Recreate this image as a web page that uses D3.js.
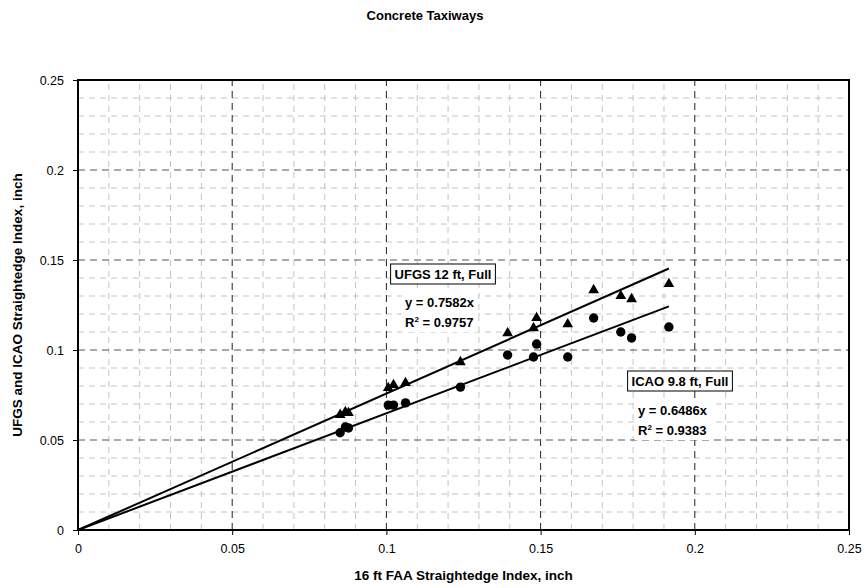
<!DOCTYPE html>
<html>
<head>
<meta charset="utf-8">
<script src="https://cdn.jsdelivr.net/npm/d3@7"></script>
<style>
  body { margin: 0; background: #fff; }
  svg { font-family: "Liberation Sans", Arial, sans-serif; }
  .lbl { font-weight: bold; font-size: 13px; }
</style>
</head>
<body>
<div id="chart"></div>
<script>
// FAA index (x) with UFGS 12 ft and ICAO 9.8 ft readings
var faa  = [0.085, 0.0867, 0.0877, 0.1006, 0.1023, 0.1062, 0.124, 0.1393, 0.1477, 0.1487, 0.1588, 0.1672, 0.176, 0.1795, 0.1916]
var ufgs = [0.064, 0.0656, 0.065, 0.0789, 0.0806, 0.0817, 0.0933, 0.1094, 0.1122, 0.1178, 0.1144, 0.1333, 0.130, 0.1283, 0.1367]
var icao = [0.054, 0.0572, 0.0567, 0.0694, 0.0694, 0.0706, 0.0794, 0.0972, 0.0961, 0.1033, 0.0961, 0.1178, 0.110, 0.1067, 0.1128]
var slopes = { ufgs: 0.7582, icao: 0.6486 }
var r2 = { ufgs: "0.9757", icao: "0.9383" }
var majorTicks = [0, 0.05, 0.1, 0.15, 0.2, 0.25]
var tickLabels = ["0", "0.05", "0.1", "0.15", "0.2", "0.25"]

var W = 867, H = 588
var margin = { top: 80, right: 18, bottom: 58, left: 78 }

var x = d3.scaleLinear().domain([0, 0.25]).range([margin.left, W - margin.right])
var y = d3.scaleLinear().domain([0, 0.25]).range([H - margin.bottom, margin.top])

var svg = d3.select("#chart").append("svg")
  .attr("width", W).attr("height", H)

// minor grid
var minor = d3.range(1, 25).map(d => d / 100).filter(d => d % 0.05 > 0.001 && d % 0.05 < 0.049)
var grid = svg.append("g").attr("class", "grid")
grid.selectAll(".vminor").data(minor).enter().append("line")
  .attr("x1", d => x(d)).attr("x2", d => x(d))
  .attr("y1", y(0)).attr("y2", y(0.25))
  .attr("stroke", "#c4c4c4").attr("stroke-dasharray", "6,5")
grid.selectAll(".hminor").data(minor).enter().append("line")
  .attr("y1", d => y(d)).attr("y2", d => y(d))
  .attr("x1", x(0)).attr("x2", x(0.25))
  .attr("stroke", "#c4c4c4").attr("stroke-dasharray", "6,5")

// major grid
var inner = majorTicks.slice(1, -1)
grid.selectAll(".vmajor").data(inner).enter().append("line")
  .attr("x1", d => x(d)).attr("x2", d => x(d))
  .attr("y1", y(0)).attr("y2", y(0.25))
  .attr("stroke", "#222").attr("stroke-dasharray", "7,5")
grid.selectAll(".hmajor").data(inner).enter().append("line")
  .attr("y1", d => y(d)).attr("y2", d => y(d))
  .attr("x1", x(0)).attr("x2", x(0.25))
  .attr("stroke", "#555").attr("stroke-dasharray", "7,5")

// frame
svg.append("rect")
  .attr("x", x(0)).attr("y", y(0.25))
  .attr("width", x(0.25) - x(0)).attr("height", y(0) - y(0.25))
  .attr("fill", "none").attr("stroke", "#000").attr("stroke-width", 2)

// axes
var xAxis = d3.axisBottom(x).tickValues(majorTicks).tickSize(5)
  .tickFormat((d, i) => tickLabels[i])
var yAxis = d3.axisLeft(y).tickValues(majorTicks).tickSize(5)
  .tickFormat((d, i) => tickLabels[i])

svg.append("g").attr("transform", "translate(0," + y(0) + ")").call(xAxis)
  .call(g => g.select(".domain").remove())
  .call(g => g.selectAll("text").attr("font-size", 12.5).attr("y", 10).attr("dy", "1em").attr("fill", "#000")
    .style("font-family", "Liberation Sans, Arial, sans-serif"))
svg.append("g").attr("transform", "translate(" + x(0) + ",0)").call(yAxis)
  .call(g => g.select(".domain").remove())
  .call(g => g.selectAll("text").attr("font-size", 12.5).attr("x", -14).attr("fill", "#000")
    .style("font-family", "Liberation Sans, Arial, sans-serif"))

// trend lines
var line = d3.line().x(d => x(d[0])).y(d => y(d[1]))
var xmax = d3.max(faa)
svg.append("path").datum([[0, 0], [xmax, slopes.ufgs * xmax]])
  .attr("d", line).attr("stroke", "#000").attr("stroke-width", 2).attr("fill", "none")
svg.append("path").datum([[0, 0], [xmax, slopes.icao * xmax]])
  .attr("d", line).attr("stroke", "#000").attr("stroke-width", 2).attr("fill", "none")

// markers
var tri = d3.symbol().type(d3.symbolTriangle).size(50)
svg.append("g").selectAll("path").data(faa).enter().append("path")
  .attr("d", tri)
  .attr("transform", (d, i) => "translate(" + x(d) + "," + y(ufgs[i]) + ")")
  .attr("fill", "#000")
svg.append("g").selectAll("circle").data(faa).enter().append("circle")
  .attr("cx", d => x(d)).attr("cy", (d, i) => y(icao[i]))
  .attr("r", 4.7).attr("fill", "#000")

// labels
function boxLabel(cx, cy, text) {
  var g = svg.append("g")
  var t = g.append("text").attr("class", "lbl").attr("x", cx).attr("y", cy)
    .attr("text-anchor", "middle").attr("dominant-baseline", "central").text(text)
  var b = t.node().getBBox()
  g.insert("rect", "text")
    .attr("x", b.x - 4).attr("y", cy - 10).attr("width", b.width + 8).attr("height", 20)
    .attr("fill", "#fff").attr("stroke", "#000").attr("stroke-width", 1)
}
function eqLabel(lx, ly, slope, r) {
  var g = svg.append("g")
  var t1 = g.append("text").attr("class", "lbl").attr("x", lx).attr("y", ly).text("y = " + slope + "x")
  var t2 = g.append("text").attr("class", "lbl").attr("x", lx).attr("y", ly + 20)
  t2.append("tspan").text("R")
  t2.append("tspan").attr("font-size", 8).attr("dy", -5).text("2")
  t2.append("tspan").attr("dy", 5).text(" = " + r)
  var b1 = t1.node().getBBox(), b2 = t2.node().getBBox()
  g.insert("rect", "text")
    .attr("x", lx - 3).attr("y", b1.y - 2)
    .attr("width", Math.max(b1.width, b2.width) + 6)
    .attr("height", b2.y + b2.height - b1.y + 4)
    .attr("fill", "#fff")
}

boxLabel(443, 274, "UFGS 12 ft, Full")
eqLabel(405, 307, slopes.ufgs, r2.ufgs)
boxLabel(680, 381, "ICAO 9.8 ft, Full")
eqLabel(638, 415, slopes.icao, r2.icao)

// titles
svg.append("text").attr("x", 425).attr("y", 20).attr("text-anchor", "middle")
  .attr("font-weight", "bold").attr("font-size", 13).text("Concrete Taxiways")
svg.append("text").attr("x", (x(0) + x(0.25)) / 2).attr("y", 580).attr("text-anchor", "middle")
  .attr("font-weight", "bold").attr("font-size", 13.5).text("16 ft FAA Straightedge Index, inch")
svg.append("text").attr("transform", "translate(22," + (y(0) + y(0.25)) / 2 + ") rotate(-90)")
  .attr("text-anchor", "middle")
  .attr("font-weight", "bold").attr("font-size", 13.5).text("UFGS and ICAO Straightedge Index, inch")
</script>
</body>
</html>
